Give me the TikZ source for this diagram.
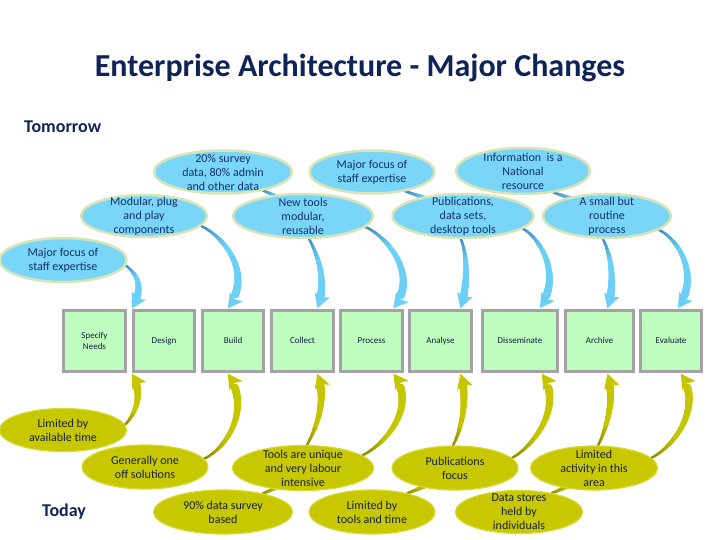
\documentclass[tikz,border=0pt]{standalone}
\usepackage{fontspec}
\setmainfont{Carlito}
\usetikzlibrary{shapes.geometric,decorations.markings,backgrounds,calc}
\definecolor{navy}{HTML}{0E2356}
\definecolor{txtb}{HTML}{13306A}
\definecolor{txty}{HTML}{16203E}
\definecolor{ellB}{HTML}{79D6F8}
\definecolor{ellBd}{HTML}{D6E4B8}
\definecolor{ellY}{HTML}{C8C800}
\definecolor{ellYd}{HTML}{D8D830}
\definecolor{arrB}{HTML}{6CD0F6}
\definecolor{arrBd}{HTML}{3E87BA}
\definecolor{arrY}{HTML}{C5C500}
\definecolor{arrYd}{HTML}{8A8A00}
\definecolor{boxG}{HTML}{BEFDBE}
\definecolor{boxL}{HTML}{A3A3A3}
\tikzset{
  stage/.style={draw=boxL, line width=3pt, fill=boxG, minimum height=61pt, inner sep=0pt,
    font=\fontsize{9}{11}\selectfont, text=txty, align=center},
  bell/.style={ellipse, draw=ellBd, line width=2.5pt, fill=ellB, inner sep=0pt},
  yell/.style={ellipse, draw=ellYd, line width=1.2pt, fill=ellY, inner sep=0pt},
  btext/.style={font=\fontsize{12}{14}\selectfont, align=center, text=txtb, inner sep=0pt},
  ytext/.style={font=\fontsize{12}{14}\selectfont, align=center, text=txty, inner sep=0pt},
  headline/.style={font=\fontsize{18}{22}\selectfont\bfseries, text=navy, inner sep=0pt, anchor=west},
  tarrow/.style 2 args={decoration={markings,
     mark=between positions 0 and 0.85 step 0.7pt with {
       \pgfmathsetmacro\myT{\pgfkeysvalueof{/pgf/decoration/mark info/distance from start}/\pgfdecoratedpathlength}
       \pgfmathsetmacro\myR{1.3+3.2*\myT}
       \pgfmathsetmacro\myM{max(0,100-300*\myT)}
       \fill[#2!\myM!#1] (0pt,0pt) circle (\myR pt);
     },
     mark=at position 1 with {\fill[#1] (0.5pt,0pt) -- (-14pt,8pt) -- (-11pt,0pt) -- (-14pt,-8pt) -- cycle;}},
     postaction={decorate}},
  barrow/.style={tarrow={arrB}{arrBd}},
  yarrow/.style={tarrow={arrY}{arrYd}}
}
\pgfdeclarelayer{background}
\pgfsetlayers{background,main}
\begin{document}
\begin{tikzpicture}[x=1pt,y=-1pt]
\useasboundingbox (0,0) rectangle (720,540);

% titles
\node[font=\fontsize{32}{38}\selectfont\bfseries, text=navy, inner sep=0pt] (title) at (360,68) {Enterprise Architecture - Major Changes};
\node[headline] (tomorrow) at (24,127) {Tomorrow};
\node[headline] (today) at (42,512) {Today};

% process boxes
\node[stage, minimum width=62pt] (sn) at (94.5,341) {Specify\\Needs};
\node[stage, minimum width=61pt] (design) at (164,341) {Design\strut};
\node[stage, minimum width=61pt] (build) at (233,341) {Build\strut};
\node[stage, minimum width=62pt] (collect) at (302.5,341) {Collect\strut};
\node[stage, minimum width=62pt] (process) at (371.5,341) {Process\strut};
\node[stage, minimum width=62pt] (analyse) at (440.5,341) {Analyse\strut};
\node[stage, minimum width=75pt] (dissem) at (520,341) {Disseminate\strut};
\node[stage, minimum width=68pt] (archive) at (599.5,341) {Archive\strut};
\node[stage, minimum width=61pt] (evaluate) at (671,341) {Evaluate\strut};

% blue ellipses (tomorrow)
\node[bell, minimum width=138pt, minimum height=43pt] (E20) at (223,172) {};
\node[bell, minimum width=125pt, minimum height=43pt] (Emaj2) at (372,172) {};
\node[bell, minimum width=134pt, minimum height=46pt] (Einfo) at (523,171) {};
\node[bell, minimum width=126pt, minimum height=42pt] (Emod) at (144,216) {};
\node[bell, minimum width=140pt, minimum height=44pt] (Enew) at (303,216) {};
\node[bell, minimum width=141pt, minimum height=44pt] (Epub) at (463,216) {};
\node[bell, minimum width=128pt, minimum height=44pt] (Esmall) at (607,216) {};
\node[bell, minimum width=127pt, minimum height=44pt] (Emaj1) at (63,260) {};

\node[btext] (E20t) at (E20.center) {20\% survey\\data, 80\% admin\\and other data};
\node[btext] (Emaj2t) at (Emaj2.center) {Major focus of\\staff expertise};
\node[btext] (Einfot) at (Einfo.center) {Information~ is a\\National\\resource};
\node[btext] (Emodt) at (Emod.center) {Modular, plug\\and play\\components};
\node[btext] (Enewt) at (Enew.center) {New tools\\modular,\\reusable};
\node[btext] (Epubt) at (Epub.center) {Publications,\\data sets,\\desktop tools};
\node[btext] (Esmallt) at (Esmall.center) {A small but\\routine\\process};
\node[btext] (Emaj1t) at (Emaj1.center) {Major focus of\\staff expertise};

% yellow ellipses (today)
\node[yell, minimum width=127pt, minimum height=43pt] (Ylim) at (63,430) {};
\node[yell, minimum width=126pt, minimum height=44pt] (Ygen) at (145,467) {};
\node[yell, minimum width=139pt, minimum height=44pt] (Y90) at (223,512) {};
\node[yell, minimum width=141pt, minimum height=45pt] (Ytools) at (303,468) {};
\node[yell, minimum width=126pt, minimum height=44pt] (Yltt) at (372,512) {};
\node[yell, minimum width=126pt, minimum height=44pt] (Ypubf) at (455,468) {};
\node[yell, minimum width=127pt, minimum height=43pt] (Ydata) at (519,512) {};
\node[yell, minimum width=127pt, minimum height=44pt] (Ylact) at (594,468) {};

\node[ytext] (Ylimt) at (Ylim.center) {Limited by\\available time};
\node[ytext] (Ygent) at (Ygen.center) {Generally one\\off solutions};
\node[ytext] (Y90t) at (Y90.center) {90\% data survey\\based};
\node[ytext] (Ytoolst) at (Ytools.center) {Tools are unique\\and very labour\\intensive};
\node[ytext] (Ylttt) at (Yltt.center) {Limited by\\tools and time};
\node[ytext] (Ypubft) at (Ypubf.center) {Publications\\focus};
\node[ytext] (Ydatat) at (Ydata.center) {Data stores\\held by\\individuals};
\node[ytext] (Ylactt) at (Ylact.center) {Limited\\activity in this\\area};

\begin{pgfonlayer}{background}
% blue arrows
\path[barrow] (Emaj1.-5) .. controls +(10,8) and +(13,-22) .. ($(design.north west)+(0,-1)$);
\path[barrow] (Emod.-10) .. controls +(22,10) and +(26,-35) .. ($(build.north)+(-5,-1)$);
\path[barrow] (E20.-25) .. controls +(12,4) and +(-8,-8) .. (Enew.center);
\path[barrow] (Enew.-75) .. controls +(8,15) and +(10,-28) .. ($(collect.north)+(15,-1)$);
\path[barrow] (Enew.-10) .. controls +(22,10) and +(26,-32) .. ($(process.north)+(22,-1)$);
\path[barrow] (Emaj2.-30) .. controls +(12,4) and +(-8,-8) .. (Epub.center);
\path[barrow] (Epub.-95) .. controls +(6,15) and +(8,-25) .. ($(analyse.north)+(20,-1)$);
\path[barrow] (Epub.-12) .. controls +(18,10) and +(22,-32) .. ($(dissem.north)+(20,-1)$);
\path[barrow] (Einfo.-35) .. controls +(12,4) and +(-8,-8) .. (Esmall.center);
\path[barrow] (Esmall.-100) .. controls +(8,15) and +(8,-25) .. ($(archive.north)+(8,-1)$);
\path[barrow] (Esmall.-15) .. controls +(20,10) and +(22,-32) .. ($(evaluate.north)+(7,-1)$);
% yellow arrows
\path[yarrow] (Ylim.5) .. controls +(10,-10) and +(12,20) .. ($(design.south west)+(0,1)$);
\path[yarrow] (Ygen.8) .. controls +(22,-10) and +(24,35) .. ($(build.south)+(-5,1)$);
\path[yarrow] (Y90.25) .. controls +(12,-4) and +(-8,8) .. (Ytools.center);
\path[yarrow] (Ytools.80) .. controls +(8,-15) and +(10,28) .. ($(collect.south)+(15,1)$);
\path[yarrow] (Ytools.12) .. controls +(24,-12) and +(24,32) .. ($(process.south)+(22,1)$);
\path[yarrow] (Yltt.28) .. controls +(12,-4) and +(-8,8) .. (Ypubf.center);
\path[yarrow] (Ypubf.95) .. controls +(8,-15) and +(8,25) .. ($(analyse.south)+(20,1)$);
\path[yarrow] (Ypubf.10) .. controls +(22,-12) and +(22,32) .. ($(dissem.south)+(22,1)$);
\path[yarrow] (Ydata.30) .. controls +(12,-4) and +(-8,8) .. (Ylact.center);
\path[yarrow] (Ylact.80) .. controls +(8,-15) and +(8,25) .. ($(archive.south)+(8,1)$);
\path[yarrow] (Ylact.10) .. controls +(24,-12) and +(22,32) .. ($(evaluate.south)+(10,1)$);
\end{pgfonlayer}
\end{tikzpicture}
\end{document}
